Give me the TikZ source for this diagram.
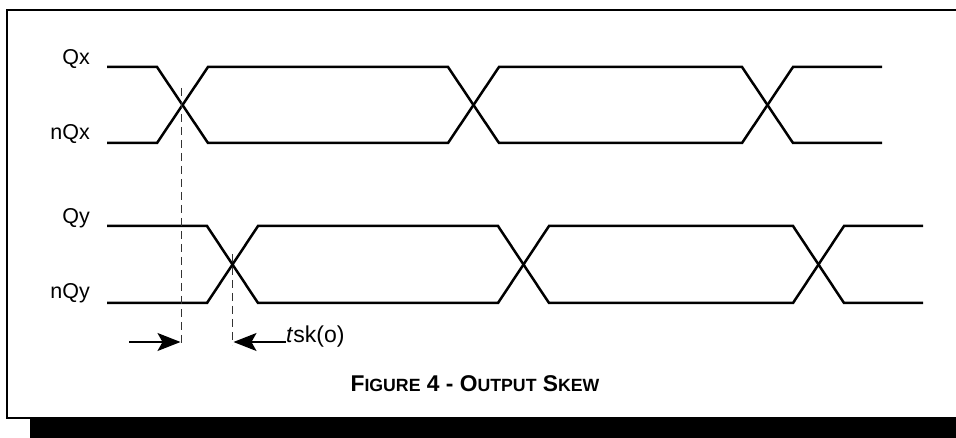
\documentclass[tikz,border=0pt]{standalone}
\usepackage{fontspec}
\setmainfont{Liberation Sans}
\usetikzlibrary{arrows.meta}
\begin{document}
\begin{tikzpicture}[x=1pt,y=-1pt,
  sig/.style={line width=2.5pt,line join=miter},
  guide/.style={line width=1.2pt,draw=black!80,dash pattern=on 8pt off 5pt},
  dimarrow/.style={line width=1.1pt,-{Stealth[length=23pt,width=18pt,inset=5pt]}},
  lbl/.style={font=\fontsize{21.5}{21.5}\selectfont,anchor=base east,inner sep=0pt}]
\useasboundingbox (0,0) rectangle (956,438);
% shadow and frame
\fill[black] (30,418) rectangle (960,440);
\draw[line width=2.5pt] (970,10) -- (7,10) -- (7,418) -- (970,418);
% labels
\node[lbl] (lqx) at (90,65) {Qx};
\node[lbl] (lnqx) at (90,140) {nQx};
\node[lbl] (lqy) at (90,224) {Qy};
\node[lbl] (lnqy) at (90,299) {nQy};
% Qx / nQx
\draw[sig] (107,67) -- (157,67) -- (208,143) -- (448,143) -- (499,67) -- (742,67) -- (793,143) -- (882,143);
\draw[sig] (107,143) -- (157,143) -- (208,67) -- (448,67) -- (499,143) -- (742,143) -- (793,67) -- (882,67);
% Qy / nQy
\draw[sig] (107,226) -- (207,226) -- (258,303) -- (498,303) -- (549,226) -- (793,226) -- (844,303) -- (923,303);
\draw[sig] (107,303) -- (207,303) -- (258,226) -- (498,226) -- (549,303) -- (793,303) -- (844,226) -- (923,226);
% guides
\coordinate (g1t) at (181.5,88);
\coordinate (g1b) at (181.5,345);
\coordinate (g2t) at (232.5,254);
\coordinate (g2b) at (232.5,345);
\draw[guide] (g1t) -- (g1b);
\draw[guide] (g2t) -- (g2b);
% arrows
\coordinate (a1s) at (129,342);
\coordinate (a1e) at (180.5,342);
\coordinate (a2s) at (286,342);
\coordinate (a2e) at (233.5,342);
\draw[dimarrow] (a1s) -- (a1e);
\draw[dimarrow] (a2s) -- (a2e);
\node[font=\fontsize{23}{23}\selectfont,anchor=base west,inner sep=0pt] (tsk) at (286,343) {\textit{t}sk(o)};
% caption
\node[font=\bfseries,anchor=base,inner sep=0pt] (cap) at (475,391)
  {{\fontsize{22.8}{22.8}\selectfont F}{\fontsize{17.7}{17.7}\selectfont IGURE}{\fontsize{22.8}{22.8}\selectfont{} 4 - O}{\fontsize{17.7}{17.7}\selectfont UTPUT}{\fontsize{22.8}{22.8}\selectfont{} S}{\fontsize{17.7}{17.7}\selectfont KEW}};
\end{tikzpicture}
\end{document}
